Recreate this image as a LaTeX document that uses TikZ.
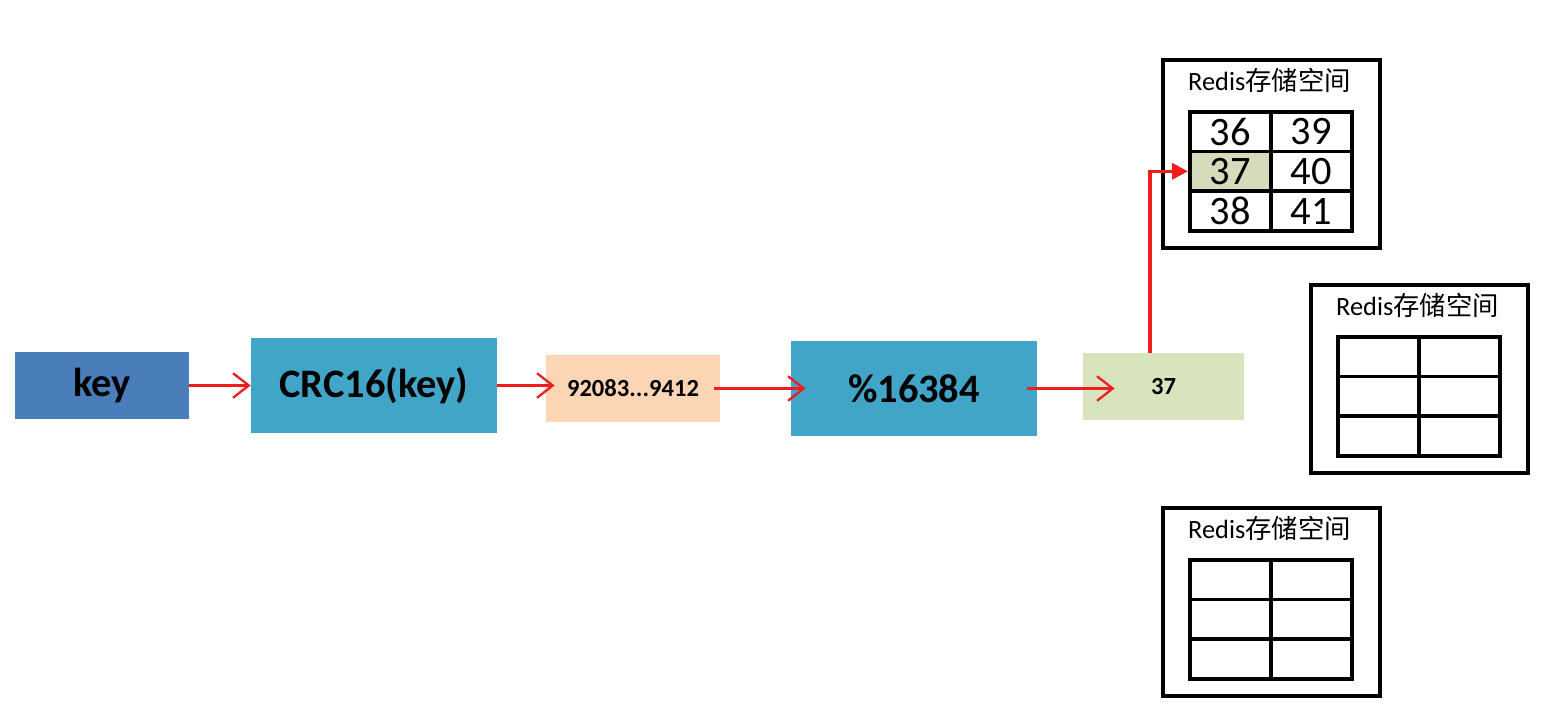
\documentclass[tikz,border=0pt]{standalone}
\usepackage{fontspec}
\setmainfont{Carlito}
\newfontfamily\cjk{Noto Sans CJK SC}
\usetikzlibrary{arrows.meta}
\definecolor{keyblue}{RGB}{74,126,187}
\definecolor{crcblue}{RGB}{65,165,200}
\definecolor{peach}{RGB}{252,213,181}
\definecolor{slotgreen}{RGB}{215,228,189}
\definecolor{hitgreen}{RGB}{213,220,188}
\definecolor{arrowred}{RGB}{238,30,30}

\begin{document}
\begin{tikzpicture}[x=0.02cm, y=-0.02cm,
    bigbox/.style={minimum width=4.92cm, minimum height=1.9cm, inner sep=0pt,
        font=\bfseries\fontsize{23}{23}\selectfont},
    smallbox/.style={minimum width=3.48cm, minimum height=1.34cm, inner sep=0pt,
        font=\bfseries\fontsize{14}{14}\selectfont},
    store/.style={draw, line width=2.2pt, anchor=north west,
        minimum width=4.34cm, minimum height=3.76cm},
    cell/.style={draw, line width=2pt, anchor=north west,
        minimum width=1.62cm, minimum height=0.795cm, inner sep=0pt},
    slotnum/.style={inner sep=0pt, font=\fontsize{23}{23}\selectfont},
    flow/.style={draw=arrowred, line width=1.3pt,
        -{Straight Barb[length=9pt, width=14pt, line width=1.3pt]}},
    jump/.style={draw=arrowred, line width=1.9pt, -{Triangle[length=9pt, width=9pt]}}]
    \useasboundingbox (0,0) rectangle (1542,715);

    \node[bigbox, fill=keyblue, minimum height=1.34cm, minimum width=3.48cm] (key) at (102,385.5) {key};
    \node[bigbox, fill=crcblue] (crc) at (374,385.5) {CRC16(key)};
    \node[smallbox, fill=peach] (hash) at (633,388.5) {92083...9412};
    \node[bigbox, fill=crcblue] (mod) at (914,388.5) {\%16384};
    \node[smallbox, fill=slotgreen, minimum width=3.22cm] (slot) at (1163.5,386.5) {37\hspace{9pt}};

    \foreach \nm/\px/\py in {sa/1161/58, sb/1309/283, sc/1161/506} {
        \node[store] (\nm) at (\px,\py) {};
        \node[font=\fontsize{15}{15}\selectfont] at (\px+108.5,\py+22) {Redis{\cjk 存储空间}};
        \foreach \r in {0,1,2}
            \foreach \c in {0,1}
                \node[cell] (\nm-\r-\c) at (\px+27+\c*81,\py+52+\r*39.7) {};
    }

    \node[cell, fill=hitgreen, anchor=center] at (sa-1-0) {};
    \foreach \r in {0,1,2}
        \foreach \c in {0,1} {
            \pgfmathtruncatemacro\n{36+\r+3*\c}
            \node[slotnum] at (sa-\r-\c) {\n};
        }

    \draw[flow] (key.east) -- (key.east -| crc.west);
    \draw[flow, shorten >=-0.18cm] (crc.east) -- (crc.east -| hash.west);
    \draw[flow, shorten <=-0.12cm, shorten >=-0.3cm] (hash.east) -- (hash.east -| mod.west);
    \draw[flow, shorten <=-0.2cm, shorten >=-0.64cm] (mod.east) -- (mod.east -| slot.west);
    \draw[jump] ([xshift=-0.27cm]slot.north) |- (sa-1-0.west);
\end{tikzpicture}
\end{document}
